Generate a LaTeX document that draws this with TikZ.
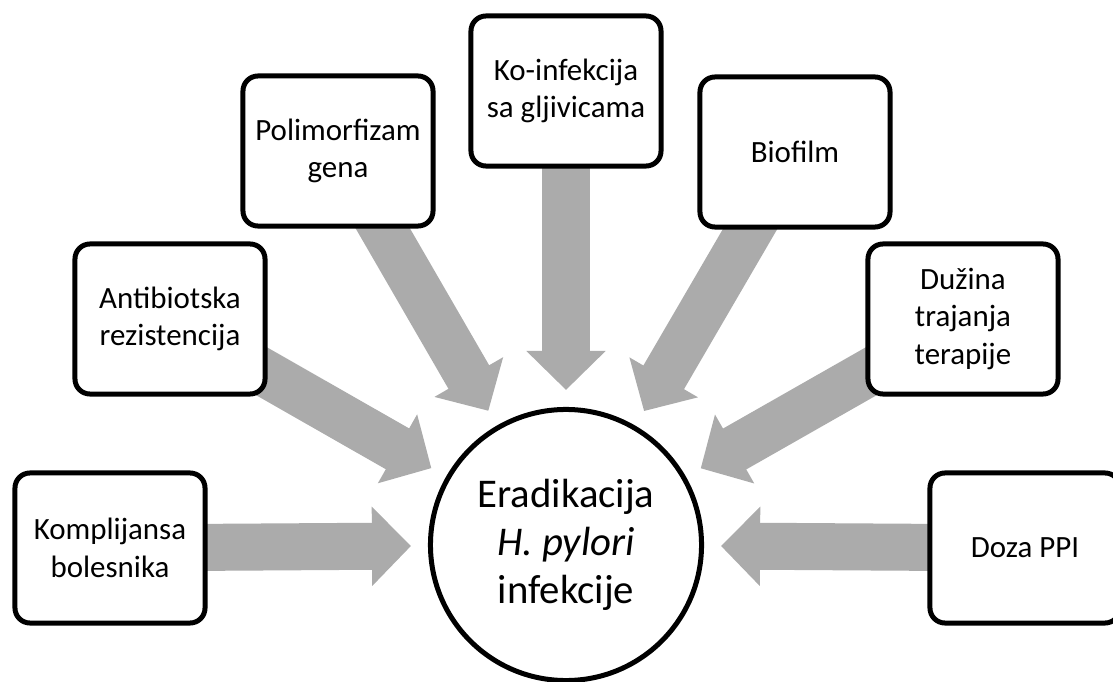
\documentclass[tikz,border=0pt]{standalone}
\usepackage{fontspec}
\setmainfont{Carlito}
\usepackage{tikz}
\usetikzlibrary{arrows.meta}
\definecolor{strelicagray}{RGB}{171,171,171}
\tikzset{
    faktor/.style={rectangle, draw, fill=white, rounded corners=0.375cm,
    	line width=0.125cm, minimum width=4.75cm, minimum height=3.75cm,
    	inner sep=0pt, align=center, font=\fontsize{22}{26.5}\selectfont}
}
\tikzset{
    ishod/.style={circle, draw, fill=white, line width=0.125cm,
    	minimum size=6.775cm, inner sep=0pt, align=center,
    	font=\fontsize{29}{34}\selectfont}
}
\tikzset{
	strelica/.style={draw=strelicagray, line width=1.175cm,
		-{Triangle[width=1.925cm, length=0.975cm]}, shorten >=0.425cm}
}
\pgfdeclarelayer{background}
\pgfsetlayers{background,main}

\begin{document}
\begin{tikzpicture}[x=0.025cm, y=-0.025cm]
	\useasboundingbox (0,0) rectangle (1113,682);
	\node (erad) [ishod] at (566, 545) {Eradikacija\\\textit{H. pylori}\\infekcije};
	
	\node (kompl) [faktor] at ( 110, 548) {Komplijansa\\bolesnika};
	\node (anti)  [faktor] at ( 170, 319) {Antibiotska\\rezistencija};
	\node (poli)  [faktor] at ( 338, 151) {Polimorfizam\\gena};
	\node (koinf) [faktor] at ( 566,  91) {Ko-infekcija\\sa gljivicama};
	\node (biof)  [faktor] at ( 795, 152) {Biofilm};
	\node (duz)   [faktor] at ( 963, 319) {Dužina\\trajanja\\terapije};
	\node (doza)  [faktor] at (1025, 548) {Doza PPI};
	
	\begin{pgfonlayer}{background}
	\draw[strelica] (kompl.center) -- (erad); \draw[strelica] (anti.center) -- (erad);
	\draw[strelica] (poli.center) -- (erad); \draw[strelica] (koinf.center) -- (erad);
	\draw[strelica] (biof.center) -- (erad); \draw[strelica] (duz.center) -- (erad);
	\draw[strelica] (doza.center) -- (erad);
	\end{pgfonlayer}
\end{tikzpicture}
\end{document}
